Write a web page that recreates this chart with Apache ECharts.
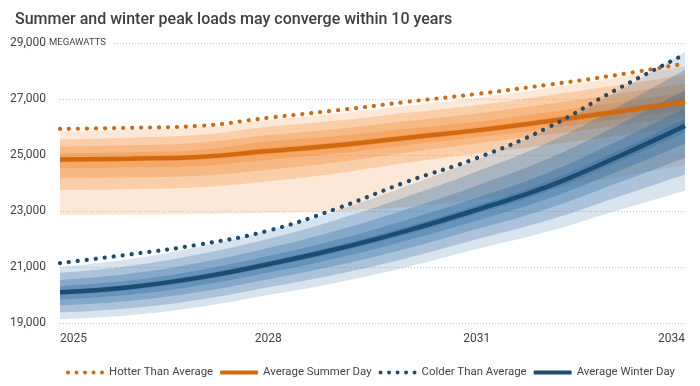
<!DOCTYPE html>
<html>
<head>
<meta charset="utf-8">
<script src="https://cdn.jsdelivr.net/npm/echarts@6/dist/echarts.min.js"></script>
<style>html,body{margin:0;padding:0;background:#fff}#c{width:700px;height:386px}</style>
</head>
<body>
<div id="c"></div>
<script>
// ---- Data (megawatts) ----
const years = ['2025','2026','2027','2028','2029','2030','2031','2032','2033','2034'];

// Summer
const summerAvg = [24840, 24870, 24930, 25140, 25350, 25620, 25880, 26200, 26540, 26900];
const summerHot = [25930, 25970, 26040, 26330, 26600, 26900, 27180, 27500, 27850, 28270];
const sumU1 = [25830, 25890, 25990, 26250, 26480, 26760, 27030, 27380, 27760, 28160];
const sumU2 = [25560, 25620, 25720, 26010, 26230, 26510, 26780, 27120, 27480, 27860];
const sumU3 = [25300, 25350, 25440, 25710, 25930, 26210, 26480, 26810, 27170, 27550];
const sumU4 = [25060, 25100, 25180, 25480, 25680, 25940, 26190, 26520, 26870, 27240];
const sumU5 = [24920, 24955, 25020, 25250, 25460, 25730, 25990, 26315, 26660, 27025];
const sumL5 = [24760, 24785, 24840, 25030, 25240, 25510, 25770, 26085, 26420, 26775];
const sumL4 = [24525, 24555, 24615, 24830, 25060, 25350, 25630, 25940, 26270, 26620];
const sumL3 = [24170, 24200, 24260, 24475, 24750, 25090, 25410, 25720, 26040, 26380];
const sumL2 = [23750, 23780, 23845, 24060, 24350, 24720, 25050, 25360, 25680, 26020];
const sumL1 = [22860, 22870, 22890, 22930, 23000, 23150, 23400, 23750, 24200, 24640];

// Winter
const winterAvg  = [20100, 20280, 20620, 21100, 21650, 22300, 23040, 23850, 24900, 26040];
const winterCold = [21140, 21450, 21800, 22300, 23100, 24050, 24890, 25950, 27320, 28600];
const winU1 = [21010, 21280, 21720, 22300, 23030, 23900, 24840, 25900, 27230, 28690];
const winU2 = [20795, 21040, 21455, 22010, 22700, 23515, 24410, 25410, 26670, 28055];
const winU3 = [20535, 20760, 21150, 21675, 22310, 23070, 23905, 24835, 26020, 27310];
const winU4 = [20320, 20520, 20885, 21390, 21980, 22685, 23470, 24340, 25460, 26675];
const winU5 = [20180, 20370, 20720, 21210, 21775, 22445, 23200, 24035, 25110, 26280];
const winL5 = [20000, 20180, 20515, 20990, 21530, 22170, 22900, 23690, 24710, 25810];
const winL4 = [19840, 20010, 20335, 20800, 21325, 21950, 22660, 23420, 24385, 25415];
const winL3 = [19630, 19790, 20105, 20560, 21060, 21660, 22355, 23065, 23970, 24905];
const winL2 = [19380, 19530, 19830, 20275, 20750, 21325, 21990, 22650, 23475, 24305];
const winL1 = [19140, 19280, 19570, 20000, 20450, 21000, 21640, 22250, 23000, 23725];

const yTicks = [19000, 21000, 23000, 25000, 27000, 29000];
const xTickLabels = ['2025', '2028', '2031', '2034'];

// ---- Styles ----
const ORANGE = '#d2690f';
const BLUE = '#1c4c72';
const orangeRGB = '242,128,32';
const blueRGB = '35,100,155';
const alphas = [0.18, 0.25, 0.28, 0.30, 0.30];
const SMOOTH = 0.45;
const FONT = 'Roboto, "Noto Sans", sans-serif';

function band(id, lower, upper, rgb, alpha) {
  return [
    { name: id + '_base', type: 'line', stack: id, data: lower, symbol: 'none', smooth: SMOOTH,
      lineStyle: { width: 0, opacity: 0 }, silent: true, z: 1 },
    { name: id + '_fill', type: 'line', stack: id, data: upper.map((u, i) => u - lower[i]), symbol: 'none', smooth: SMOOTH,
      lineStyle: { width: 0, opacity: 0 }, areaStyle: { color: 'rgba(' + rgb + ',' + alpha + ')', opacity: 1 },
      silent: true, z: 1 }
  ];
}

const sumBands = [[sumL1, sumU1], [sumL2, sumU2], [sumL3, sumU3], [sumL4, sumU4], [sumL5, sumU5]];
const winBands = [[winL1, winU1], [winL2, winU2], [winL3, winU3], [winL4, winU4], [winL5, winU5]];

let series = [];
sumBands.forEach((b, i) => { series = series.concat(band('s' + i, b[0], b[1], orangeRGB, alphas[i])); });
winBands.forEach((b, i) => { series = series.concat(band('w' + i, b[0], b[1], blueRGB, alphas[i])); });

series.push(
  { name: 'Average Summer Day', type: 'line', data: summerAvg, symbol: 'none', smooth: SMOOTH, color: ORANGE,
    lineStyle: { color: ORANGE, width: 4.5 }, z: 3 },
  { name: 'Average Winter Day', type: 'line', data: winterAvg, symbol: 'none', smooth: SMOOTH, color: BLUE,
    lineStyle: { color: BLUE, width: 4.5 }, z: 3 },
  { name: 'Hotter Than Average', type: 'line', data: summerHot, symbol: 'none', smooth: SMOOTH, color: ORANGE,
    lineStyle: { color: ORANGE, width: 4.2, type: [0.1, 8.9], cap: 'round' }, z: 4 },
  { name: 'Colder Than Average', type: 'line', data: winterCold, symbol: 'none', smooth: SMOOTH, color: BLUE,
    lineStyle: { color: BLUE, width: 4.2, type: [0.1, 8.9], cap: 'round' }, z: 4 }
);

// dotted legend icon (5 round dots)
function dotsPath() {
  let p = '';
  for (let k = 0; k < 5; k++) {
    const cx = 2 + k * 8.5;
    p += 'M' + (cx - 2) + ',2a2,2 0 1,0 4,0a2,2 0 1,0 -4,0z';
  }
  return 'path://' + p;
}
const dotIcon = dotsPath();

const chart = echarts.init(document.getElementById('c'), null, { renderer: 'canvas' });
chart.setOption({
  animation: false,
  backgroundColor: '#fff',
  title: {
    text: 'Summer and winter peak loads may converge within 10 years',
    left: 10, top: 7,
    textStyle: { fontFamily: FONT, fontSize: 16, fontWeight: 500, color: '#3b4045' }
  },
  grid: { left: 60, right: 15, top: 43, bottom: 63, containLabel: false },
  xAxis: {
    type: 'category', data: years, boundaryGap: false,
    axisLine: { show: false }, axisTick: { show: false },
    axisLabel: {
      interval: 2, margin: 10, color: '#444', fontFamily: FONT, fontSize: 12,
      alignMinLabel: 'left', alignMaxLabel: 'right',
      formatter: v => (xTickLabels.indexOf(v) >= 0 ? v : '')
    },
    splitLine: { show: false }
  },
  yAxis: {
    type: 'value', min: yTicks[0], max: yTicks[yTicks.length - 1], interval: 2000,
    axisLine: { show: false }, axisTick: { show: false },
    axisLabel: {
      align: 'left', margin: 50, color: '#444', fontFamily: FONT, fontSize: 12,
      formatter: v => {
        const s = v.toLocaleString('en-US');
        return v === yTicks[yTicks.length - 1] ? '{a|' + s + '} {b|MEGAWATTS}' : '{a|' + s + '}';
      },
      rich: {
        a: { fontFamily: FONT, fontSize: 12, color: '#444', backgroundColor: '#fff' },
        b: { fontFamily: FONT, fontSize: 9.5, color: '#444', backgroundColor: '#fff', padding: [2, 7, 2, 0] }
      }
    },
    splitLine: { show: true, lineStyle: { type: [1, 2], color: '#c8c8c8', width: 1 } }
  },
  legend: {
    left: 61, top: 362, width: 680,
    itemWidth: 38, itemHeight: 4, itemGap: 7,
    textStyle: { fontFamily: FONT, fontSize: 11.4, color: '#444' },
    data: [
      { name: 'Hotter Than Average', icon: dotIcon, itemStyle: { color: ORANGE } },
      { name: 'Average Summer Day', icon: 'roundRect', itemStyle: { color: ORANGE } },
      { name: 'Colder Than Average', icon: dotIcon, itemStyle: { color: BLUE } },
      { name: 'Average Winter Day', icon: 'roundRect', itemStyle: { color: BLUE } }
    ],
    selectedMode: false
  },
  series: series
});
</script>
</body>
</html>
